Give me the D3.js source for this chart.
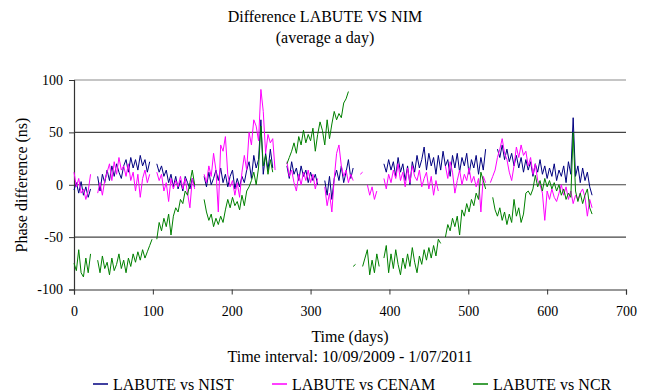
<!DOCTYPE html>
<html>
<head>
<meta charset="utf-8">
<script src="https://cdn.jsdelivr.net/npm/d3@7"></script>
<style>
  body { margin: 0; background: #fff; }
  svg text { font-family: "Liberation Serif", "Times New Roman", serif; fill: #000; }
</style>
</head>
<body>
<div id="chart"></div>
<script>
// days of the daily averages (every third day kept)
let days = [
  0,3,6,9,12,15,18,21,24,27, 30,33,36,39,42,45,48,51,54,57,
  60,63,66,69,72,75,78,81,84,87, 90,93,96,99,102,105,108,111,114,117,
  120,123,126,129,132,135,138,141,144,147, 150,153,156,159,162,165,168,171,174,177,
  180,183,186,189,192,195,198,201,204,207, 210,213,216,219,222,225,228,231,234,237,
  240,243,246,249,252,255,258,261,264,267, 270,273,276,279,282,285,288,291,294,297,
  300,303,306,309,312,315,318,321,324,327, 330,333,336,339,342,345,348,351,354,357,
  360,363,366,369,372,375,378,381,384,387, 390,393,396,399,402,405,408,411,414,417,
  420,423,426,429,432,435,438,441,444,447, 450,453,456,459,462,465,468,471,474,477,
  480,483,486,489,492,495,498,501,504,507, 510,513,516,519,522,525,528,531,534,537,
  540,543,546,549,552,555,558,561,564,567, 570,573,576,579,582,585,588,591,594,597,
  600,603,606,609,612,615,618,621,624,627, 630,633,636,639,642,645,648,651,654,657
]

let nist = [
  -5,2,-8,3,-10,-2,-12,-4,null,null, 8,-6,10,2,14,4,18,8,20,12,
  6,18,24,12,26,16,24,14,28,18, 24,12,22,null,null,20,12,18,8,14,
  2,10,-2,8,-4,4,-6,8,2,-4, 6,-2,null,null,null,8,-2,12,0,6,
  14,4,16,2,10,-2,8,14,-4,6, -2,8,2,14,22,6,28,16,24,62,
  10,30,14,34,16,null,null,null,null,null, 18,6,22,10,16,4,18,8,14,2,
  12,4,10,0,null,null,4,-10,8,-14, 6,14,4,18,2,12,24,6,16,null,
  null,null,null,null,null,null,null,null,null,null, null,20,12,24,14,22,8,26,12,20,
  4,18,0,22,12,28,16,24,36,14, 30,18,26,10,28,14,32,18,24,8,
  28,16,30,12,26,18,30,10,24,16, 28,10,26,14,34,null,null,null,null,34,
  26,38,24,34,22,30,18,28,16,26, 12,24,14,22,8,20,12,24,10,18,
  6,16,8,20,4,14,8,18,2,22, 10,64,8,18,2,16,4,12,-2,-10
]

let cenam = [
  12,-2,6,-8,-4,-14,-6,10,null,null, -8,2,-10,4,12,20,4,22,10,26,
  14,18,8,20,4,12,-6,10,-12,6, 14,2,10,null,null,12,4,10,-6,2,
  -16,6,-4,4,-2,8,-4,6,-8,-22, 6,-4,null,null,null,10,2,18,8,30,
  14,-26,38,32,46,10,-2,4,-10,2, -12,12,28,14,50,38,62,56,42,91,
  70,30,48,40,44,14,null,null,null,null, 22,8,14,2,-6,10,0,12,4,14,
  2,10,-4,6,null,null,-2,-20,-8,-26, 6,30,38,18,8,14,2,10,4,null,
  null,10,12,null,0,-10,-2,-14,-6,null, null,6,-4,10,2,14,6,20,4,12,
  -2,16,2,18,8,4,14,-2,6,12, -4,8,-10,4,-6,null,null,18,6,22,
  12,-8,4,14,0,10,4,16,2,8, -2,6,-26,8,2,null,2,8,14,26,
  34,44,30,24,12,4,18,36,26,38, 28,32,18,26,10,20,4,0,-8,-34,
  -6,-14,-4,-12,-16,-8,0,-10,-2,-14, -6,-18,-10,-14,-8,-4,-12,-30,-14,-22
]

let ncr = [
  -75,-82,-62,-84,-88,-70,-84,-66,null,null, -72,-84,-68,-80,-74,-86,-70,-82,-76,-66,
  -80,-72,-84,-70,-78,-66,-74,-64,-72,-62, -70,-64,-58,-52,null,-52,-36,-44,-32,-40,
  -28,-48,-30,-22,-26,-14,-18,-6,-10,2, 14,0,null,null,null,-14,-26,-34,-28,-40,
  -32,-38,-30,-36,-24,-14,-22,-12,-20,-16, -24,-10,-20,-6,-2,4,12,0,16,56,
  18,28,10,24,12,null,null,null,null,null, 20,26,32,40,30,46,38,52,40,48,
  42,54,32,48,60,52,38,62,44,58, 70,62,68,64,78,82,89,null,-78,-76,
  null,null,-78,-70,-62,-86,-72,-84,-66,-78, null,-70,-58,-84,-66,-80,-62,-76,-86,-70,
  -80,-66,-78,-60,-74,-84,-68,-76,-62,-72, -60,-70,-58,-68,-52,-56,null,-50,-38,-44,
  -32,-40,-30,-48,-24,-30,-18,-26,-14,-20, -8,-14,12,4,-4,null,null,-12,-24,-30,
  -22,-34,-26,-38,-28,-36,-14,-30,-22,-36, -28,-8,-6,-10,-4,9,-2,4,-6,6,
  -2,4,-4,2,-6,0,-10,-4,-14,-8, -12,50,-6,-16,-8,-18,-10,-4,-22,-28
]

let seriesNames = ['LABUTE vs NIST', 'LABUTE vs CENAM', 'LABUTE vs NCR']
let seriesColors = ['#000080', '#ff00ff', '#008000']
let xTicks = [0, 100, 200, 300, 400, 500, 600, 700]
let yTicks = [-100, -50, 0, 50, 100]

let width = 650
let height = 392
let plotLeft = 74, plotRight = 626, plotTop = 80, plotBottom = 289.5
let serif = '"Liberation Serif", "Times New Roman", serif'

let svg = d3.select('#chart').append('svg')
  .attr('width', width)
  .attr('height', height)
  .attr('font-family', serif)

let x = d3.scaleLinear().domain([0, 700]).range([plotLeft, plotRight])
let y = d3.scaleLinear().domain([-100, 100]).range([plotBottom, plotTop])

// gridlines
svg.append('g')
  .selectAll('line')
  .data(yTicks.filter(t => t > -100))
  .enter()
  .append('line')
  .attr('x1', plotLeft).attr('x2', plotRight)
  .attr('y1', d => y(d)).attr('y2', d => y(d))
  .attr('stroke', d => d === 100 ? '#8c8c8c' : '#444')
  .attr('stroke-width', 1.2)

// axes (plain hyphen for negatives, like the original)
let plainNum = d => String(d)
let xAxis = svg.append('g')
  .attr('transform', `translate(0,${plotBottom})`)
  .call(d3.axisBottom(x).tickValues(xTicks).tickFormat(plainNum).tickSize(5).tickPadding(12))
let yAxis = svg.append('g')
  .attr('transform', `translate(${plotLeft},0)`)
  .call(d3.axisLeft(y).tickValues(yTicks).tickFormat(plainNum).tickSize(5).tickPadding(6))

for (let ax of [xAxis, yAxis]) {
  ax.attr('font-family', serif).attr('font-size', 14)
  ax.select('.domain').attr('stroke', '#333').attr('stroke-width', 1.2)
  ax.selectAll('.tick line').attr('stroke', '#333')
  ax.selectAll('.tick text')
    .style('font-family', serif)
    .style('font-size', '14px')
    .attr('fill', '#000')
}

// lines
let allSeries = [nist, cenam, ncr]
let line = d3.line()
  .defined(d => d[1] !== null)
  .x(d => x(d[0]))
  .y(d => y(d[1]))

allSeries.forEach((s, i) => {
  svg.append('path')
    .datum(days.map((d, j) => [d, s[j]]))
    .attr('fill', 'none')
    .attr('stroke', seriesColors[i])
    .attr('stroke-width', 1)
    .attr('d', line)
})

// titles
svg.append('text').attr('x', 325).attr('y', 22).attr('text-anchor', 'middle')
  .style('font-size', '16px').text('Difference LABUTE VS NIM')
svg.append('text').attr('x', 325).attr('y', 43).attr('text-anchor', 'middle')
  .style('font-size', '16px').text('(average a day)')

svg.append('text').attr('x', 350).attr('y', 342).attr('text-anchor', 'middle')
  .style('font-size', '16px').text('Time (days)')
svg.append('text').attr('x', 350).attr('y', 362).attr('text-anchor', 'middle')
  .style('font-size', '16px').text('Time interval: 10/09/2009 - 1/07/2011')

svg.append('text')
  .attr('transform', 'translate(27,185) rotate(-90)')
  .attr('text-anchor', 'middle')
  .style('font-size', '16px')
  .text('Phase difference (ns)')

// legend
let legendX = [93, 272, 473]
let legend = svg.append('g')
  .selectAll('g')
  .data(seriesNames)
  .enter()
  .append('g')
  .attr('transform', (d, i) => `translate(${legendX[i]},384)`)
legend.append('line')
  .attr('x1', 0).attr('x2', 15)
  .attr('stroke', (d, i) => seriesColors[i])
  .attr('stroke-width', 1.5)
legend.append('text')
  .attr('x', 20).attr('y', 6)
  .style('font-size', '16px')
  .text(d => d)
</script>
</body>
</html>
